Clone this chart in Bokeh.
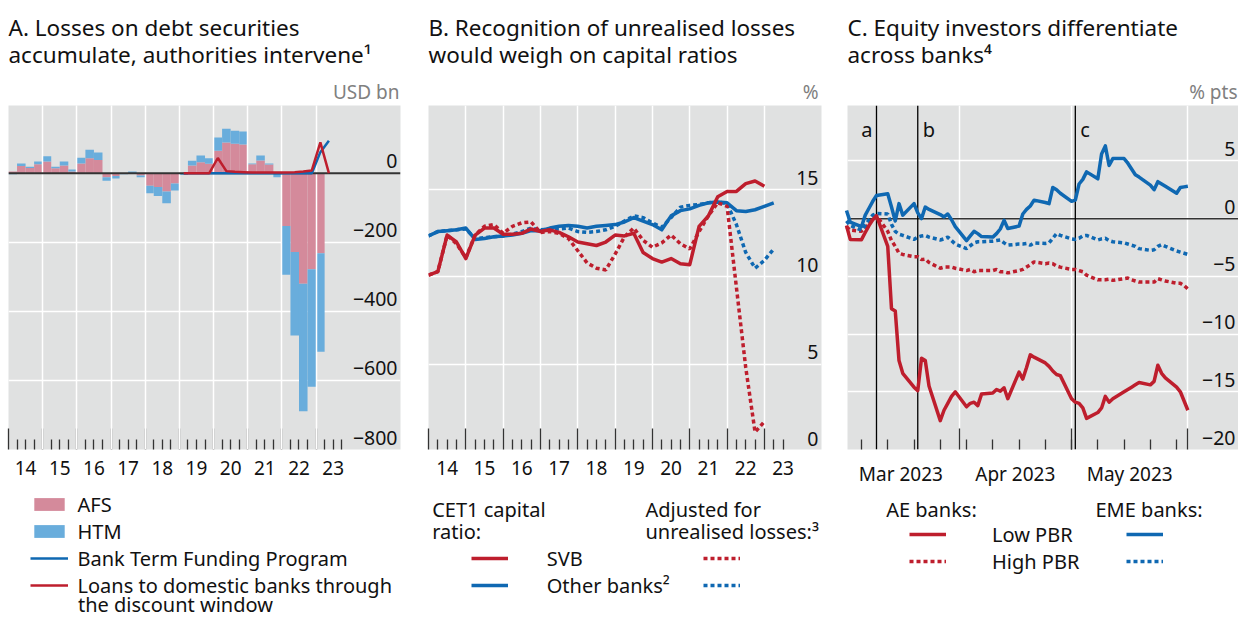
import numpy as np
import pandas as pd
from bokeh.plotting import figure
from bokeh.layouts import row, column
from bokeh.models import (ColumnDataSource, FixedTicker, LinearAxis, Span, Label, LabelSet,
                          Legend, LegendItem, Range1d, Title)
from bokeh.embed import file_html
from bokeh.resources import INLINE
from bokeh.core.properties import value

FONT = "Noto Sans"
BG = "#E0E1E1"
RED = "#BE1E2D"
BLUE = "#0F68B2"
PINK = "#D48A9B"
LBLUE = "#69ADDC"
DARK = "#333333"
GREY_TXT = "#808080"
TXT = "#111111"

# ---------------- Panel A data (USD bn, quarterly) ----------------
bar_quarters = [f"{y}Q{q}" for y in range(2014, 2024) for q in range(1, 5)][:37]
afs_losses = [5, 21, 15, 26, 34, 14, 22, 5, 28, 43, 38, -12, -8, 0, 0, -7,
              -36, -40, -53, -30, 0, 22, 32, 27, 65, 89, 85, 83, 26, 37, 25, -2,
              -153, -228, -320, -278, -232]
htm_losses = [-3, 7, 4, 8, 15, 5, 12, 6, 17, 25, 22, -10, -7, -3, 5, -5,
              -22, -26, -34, -20, -5, 14, 19, 16, 38, 40, 38, 38, 2, 14, 3, -10,
              -141, -242, -369, -340, -285]
line_quarters = ["2019Q1", "2019Q2", "2019Q3", "2019Q4", "2020Q1", "2020Q2", "2020Q3", "2020Q4",
                 "2021Q1", "2021Q2", "2021Q3", "2021Q4", "2022Q1", "2022Q2", "2022Q3", "2022Q4",
                 "2023Q1", "2023Q2"]
btfp = [0, 0, 0, 0, 0, 0, 0, 0, 0, 0, 0, 0, 0, 0, 0, 0, 61, 94]
discount_window = [0, 0, 0, 0, 44, 6, 4, 3, 2, 2, 2, 2, 2, 3, 5, 8, 89, 0]
a_yticks = [0, -200, -400, -600, -800]
a_ylabels = ["0", "\u2212200", "\u2212400", "\u2212600", "\u2212800"]

# ---------------- Panel B data (%, quarter ends) ----------------
b_quarters_svb = [f"{y}Q{q}" for y in range(2013, 2023) for q in range(1, 5)][3:]   # 2013Q4..2022Q4
b_quarters_other = b_quarters_svb + ["2023Q1"]
cet1_svb = [10.1, 10.3, 12.4, 12.0, 11.05, 12.4, 12.8, 12.8, 12.45, 12.45, 12.5, 12.75,
            12.6, 12.7, 12.55, 12.3, 12.0, 11.9, 11.8, 12.0, 12.4, 12.35, 12.5, 11.4,
            11.05, 10.85, 11.05, 10.75, 10.7, 12.9, 13.5, 14.6, 14.9, 14.9, 15.35, 15.5, 15.2]
adj_svb = [10.1, 10.3, 12.4, 11.9, 11.1, 12.4, 12.9, 13.0, 12.5, 12.9, 13.1, 13.15,
           12.55, 12.6, 12.5, 12.2, 11.5, 10.8, 10.5, 10.4, 11.3, 12.3, 12.8, 12.1,
           11.7, 11.95, 12.4, 11.9, 11.6, 12.6, 13.5, 14.25, 14.05, 9.4, 4.8, 1.1, 1.7]
cet1_other = [12.35, 12.6, 12.65, 12.7, 12.8, 12.15, 12.2, 12.3, 12.35, 12.4, 12.5, 12.65,
              12.65, 12.8, 12.9, 12.95, 12.9, 12.8, 12.9, 12.95, 13.0, 13.15, 13.4, 13.2,
              13.0, 12.7, 13.5, 13.8, 13.9, 14.1, 14.25, 14.3, 14.25, 13.8, 13.75, 13.85,
              14.05, 14.25]
adj_other = [12.35, 12.6, 12.65, 12.7, 12.75, 12.2, 12.25, 12.3, 12.35, 12.45, 12.6, 12.8,
             12.7, 12.75, 12.75, 12.8, 12.6, 12.55, 12.6, 12.7, 12.9, 13.2, 13.5, 13.4,
             13.1, 12.85, 13.4, 14.0, 14.1, 14.15, 14.25, 14.3, 14.2, 13.0, 11.4, 10.5,
             10.95, 11.6]
b_yticks = [0, 5, 10, 15]
b_ylabels = ["0", "5", "10", "15"]

# ---------------- Panel C data (% pts, daily) ----------------
c_dates = pd.bdate_range("2023-03-02", "2023-06-01")
ae_low = [-0.6, -1.8, -1.82, -1.2, -0.6, -0.1, 0.25, -2.4, -7.8, -8.0, -12.3, -13.4,
          -14.6, -14.9, -12.1, -12.3, -14.5, -17.5, -16.6, -16.0, -15.4, -15.0,
          -16.3, -16.0, -15.9, -16.2, -15.2, -15.1, -14.8, -14.95, -14.65, -15.6,
          -13.3, -13.9, -12.9, -11.8, -12.0, -12.5, -12.8, -13.2, -13.5, -13.6,
          -15.6, -15.9, -16.0, -16.4, -17.3, -16.8, -16.4, -15.4, -15.9, -15.6,
          -15.0, -14.8, -14.6, -14.4, -14.2, -14.4, -14.1, -12.7, -13.4, -13.8,
          -14.6, -15.0, -15.8, -16.6]
ae_high = [-0.7, -1.0, -1.1, -0.8, -0.4, 0.0, 0.25, -1.1, -1.9, -2.4, -3.0, -3.1,
           -3.3, -3.3, -3.55, -3.5, -3.8, -4.3, -4.2, -4.2, -4.2, -4.3,
           -4.5, -4.4, -4.6, -4.5, -4.5, -4.5, -4.4, -4.6, -4.6, -4.7,
           -4.5, -4.4, -4.2, -4.0, -3.75, -3.9, -3.85, -3.9, -4.1, -4.2,
           -4.4, -4.4, -4.5, -4.6, -4.9, -5.3, -5.3, -5.3, -5.25, -5.35,
           -5.2, -5.15, -5.3, -5.4, -5.5, -5.5, -5.5, -5.2, -5.3, -5.4,
           -5.6, -5.6, -5.8, -6.1]
eme_low = [0.7, -0.3, -0.7, 0.3, 0.9, 1.5, 2.0, 2.15, 1.0, -0.2, 1.3, 0.3,
           1.3, 0.5, 0.0, 1.0, 0.8, 0.35, 0.15, 0.4, -0.1, -0.7,
           -1.9, -1.5, -1.1, -1.3, -1.55, -1.6, -1.3, -0.9, -0.15, -0.85,
           -0.65, 0.4, 0.8, 1.1, 1.6, 1.4, 1.3, 2.7, 2.5, 2.2,
           1.5, 1.6, 3.0, 3.4, 4.05, 3.45, 5.6, 6.3, 4.6, 5.2,
           5.2, 4.8, 4.3, 3.8, 3.6, 2.9, 2.5, 3.2, 3.0, 2.8,
           2.2, 2.7, 2.75, 2.8]
eme_high = [-0.2, -0.6, -1.0, -0.6, -0.1, 0.3, 0.45, 0.4, -0.5, -1.1, -1.35, -1.45,
            -1.8, -1.6, -1.5, -1.45, -1.6, -1.85, -1.75, -1.6, -1.9, -2.2,
            -2.6, -2.35, -2.1, -2.0, -2.0, -1.95, -1.9, -1.85, -2.1, -2.3,
            -2.2, -2.2, -2.15, -2.3, -2.1, -2.15, -2.1, -1.7, -1.3, -1.45,
            -1.75, -1.8, -1.7, -1.5, -1.45, -1.85, -1.75, -1.7, -1.9, -2.0,
            -2.1, -2.2, -2.3, -2.4, -2.6, -2.75, -2.7, -2.4, -2.25, -2.4,
            -2.8, -2.9, -3.0, -3.1]
event_dates = ["2023-03-10", "2023-03-21", "2023-05-02"]
event_labels = ["a", "b", "c"]
c_yticks = [5, 0, -5, -10, -15, -20]
c_ylabels = ["5", "0", "\u22125", "\u221210", "\u221215", "\u221220"]

# ---------------- helpers ----------------
def qcenter(qs):
    return [int(q[:4]) + (int(q[5]) - 0.5) / 4 for q in qs]

def qend(qs):
    return [int(q[:4]) + int(q[5]) / 4 for q in qs]

def ms(d):
    return int(pd.Timestamp(d).value // 10**6)

FRAME_TOP = 105
FRAME_H = 344
H1 = 490          # chart figure height
H2 = 127          # legend figure height (page bottom = 617)
LFIX = 8          # Label baseline correction (px)
NAN = np.array([np.nan])

def make_fig(width, xr, yr, left, right, title, unit, unit_off, x_type="linear"):
    p = figure(width=width, height=H1, x_range=xr, y_range=yr, x_axis_type=x_type,
               output_backend="svg", toolbar_location=None, title_location=None,
               x_axis_location="below", y_axis_location=None,
               min_border_left=left, min_border_right=right,
               min_border_top=FRAME_TOP, min_border_bottom=H1 - FRAME_TOP - FRAME_H,
               background_fill_color=BG, border_fill_color="white", outline_line_color=None)
    p.add_layout(Title(text=unit, align="right", offset=unit_off, standoff=1,
                       text_font=FONT, text_font_size="19px", text_font_style="normal",
                       text_color=GREY_TXT), "above")
    p.add_layout(Title(text=title, align="left", offset=0, standoff=13,
                       text_font=FONT, text_font_size="22.5px", text_font_style="normal",
                       text_color=TXT, text_line_height=0.87), "above")
    return p

def make_legend_fig(width):
    q = figure(width=width, height=H2, x_range=Range1d(0, width), y_range=Range1d(0, H2),
               output_backend="svg", toolbar_location=None, title_location=None,
               x_axis_location=None, y_axis_location=None,
               min_border_left=0, min_border_right=0, min_border_top=0, min_border_bottom=0,
               background_fill_color="white", border_fill_color="white", outline_line_color=None)
    q.xgrid.visible = False
    q.ygrid.visible = False
    return q

def style_axes(p, major, minor, mids, labels, grid_x, grid_y, yticks, ylabels, x_end):
    ax = p.xaxis[0]
    ax.ticker = FixedTicker(ticks=major, minor_ticks=minor)
    ax.major_tick_in = 21
    ax.major_tick_out = 0
    ax.minor_tick_in = 10
    ax.minor_tick_out = 0
    ax.major_tick_line_color = DARK
    ax.minor_tick_line_color = DARK
    ax.major_tick_line_width = 1.3
    ax.minor_tick_line_width = 1.3
    ax.axis_line_color = None
    ax.major_label_overrides = {t: "" for t in major}
    ax.major_label_text_font_size = "0px"
    ax.major_label_standoff = 0
    lab = LinearAxis(ticker=FixedTicker(ticks=mids, minor_ticks=[]),
                     major_label_overrides=dict(zip(mids, labels)),
                     major_tick_in=0, major_tick_out=0, minor_tick_in=0, minor_tick_out=0,
                     axis_line_color=None, major_label_text_font=FONT,
                     major_label_text_font_size="19px", major_label_text_color=TXT,
                     major_label_standoff=11)
    p.add_layout(lab, "below")
    p.xgrid.ticker = FixedTicker(ticks=grid_x, minor_ticks=[])
    p.xgrid.grid_line_color = "white"
    p.xgrid.grid_line_width = 1.5
    p.ygrid.ticker = FixedTicker(ticks=grid_y, minor_ticks=[])
    p.ygrid.grid_line_color = "white"
    p.ygrid.grid_line_width = 1.5
    src = ColumnDataSource(dict(x=[x_end] * len(yticks), y=yticks, text=ylabels))
    p.add_layout(LabelSet(x="x", y="y", text="text", source=src, text_align="right",
                          text_baseline="alphabetic", x_offset=-3, y_offset=5,
                          text_font=value(FONT), text_font_size="19.5px", text_color=TXT))

ROW = 27

def legend(items, x, top, gw, standoff):
    h = len(items) * ROW
    return Legend(items=items, location=(x, 617 - top - h), orientation="vertical",
                  glyph_width=gw, glyph_height=16, label_standoff=standoff, spacing=0,
                  padding=0, margin=0, border_line_color=None, background_fill_alpha=0,
                  label_text_font=FONT, label_text_font_size="20px", label_height=ROW,
                  label_text_color=TXT)

def text_label(q, x, baseline_y, txt):
    q.add_layout(Label(x=x, y=617 - baseline_y + LFIX, x_units="screen", y_units="screen",
                       text=txt, text_align="left", text_baseline="alphabetic", text_font=FONT,
                       text_font_size="20px", text_color=TXT))

# ================= Panel A =================
pA = make_fig(420, Range1d(2014, 2025.47), Range1d(-800, 196), 8, 20,
              "A. Losses on debt securities\naccumulate, authorities intervene\u00b9", "USD bn", 1)
afs_bottom = [0] * len(afs_losses)
htm_bottom = [a if a * h > 0 else 0 for a, h in zip(afs_losses, htm_losses)]
htm_top = [b + h for b, h in zip(htm_bottom, htm_losses)]
srcA = ColumnDataSource(dict(x=qcenter(bar_quarters), afs_top=afs_losses, afs_bot=afs_bottom,
                             htm_top=htm_top, htm_bot=htm_bottom))
pA.vbar(x="x", top="afs_top", bottom="afs_bot", width=0.25, source=srcA,
        fill_color=PINK, line_color=None)
pA.vbar(x="x", top="htm_top", bottom="htm_bot", width=0.25, source=srcA,
        fill_color=LBLUE, line_color=None)
pA.add_layout(Span(location=0, dimension="width", line_color=DARK, line_width=2))
srcAl = ColumnDataSource(dict(x=qcenter(line_quarters), btfp=btfp, dw=discount_window))
pA.line("x", "btfp", source=srcAl, line_color=BLUE, line_width=2.5, level="overlay")
pA.line("x", "dw", source=srcAl, line_color=RED, line_width=2.5, level="overlay")
years_a = list(range(2014, 2024))
style_axes(pA, years_a, [y + q / 4 for y in years_a for q in (1, 2, 3)],
           [y + 0.5 for y in years_a], [str(y)[2:] for y in years_a],
           list(range(2015, 2024)), [-200, -400, -600], a_yticks, a_ylabels, 2025.47)
pA.xgrid.level = "guide"

# legend figure A (frame aligned with chart frame: left edge at page x 8)
lA = make_legend_fig(420)
k_afs = lA.vbar(x=NAN, top=NAN, width=1, fill_color=PINK, line_color=None)
k_htm = lA.vbar(x=NAN, top=NAN, width=1, fill_color=LBLUE, line_color=None)
k_btfp = lA.line(x=NAN, y=NAN, line_color=BLUE, line_width=2.5)
k_dw = lA.line(x=NAN, y=NAN, line_color=RED, line_width=2.5)
lA.add_layout(legend([LegendItem(label=value("AFS"), renderers=[k_afs]),
                      LegendItem(label=value("HTM"), renderers=[k_htm]),
                      LegendItem(label=value("Bank Term Funding Program"), renderers=[k_btfp]),
                      LegendItem(label=value("Loans to domestic banks through"), renderers=[k_dw])],
                     21.5, 490.5, 38, 10))
text_label(lA, 69.5, 612, "the discount window")

# ================= Panel B =================
pB = make_fig(416, Range1d(2014, 2024.53), Range1d(0.1, 19.83), 8, 15,
              "B. Recognition of unrealised losses\nwould weigh on capital ratios", "%", 3)
srcBs = ColumnDataSource(dict(x=qend(b_quarters_svb), cet1=cet1_svb, adj=adj_svb))
srcBo = ColumnDataSource(dict(x=qend(b_quarters_other), cet1=cet1_other, adj=adj_other))
pB.line("x", "cet1", source=srcBo, line_color=BLUE, line_width=3.5, line_join="round")
pB.line("x", "adj", source=srcBo, line_color=BLUE, line_width=3.5, line_dash="4 3")
pB.line("x", "cet1", source=srcBs, line_color=RED, line_width=3.5, line_join="round")
pB.line("x", "adj", source=srcBs, line_color=RED, line_width=3.5, line_dash="4 3")
years_b = list(range(2014, 2024))
style_axes(pB, years_b, [y + q / 4 for y in years_b for q in (1, 2, 3)][:-1],
           [y + 0.5 for y in years_b], [str(y)[2:] for y in years_b],
           list(range(2015, 2024)), [5, 10, 15], b_yticks, b_ylabels, 2024.53)

# legend figure B (frame left edge at page x 428)
lB = make_legend_fig(416)
k_ss = lB.line(x=NAN, y=NAN, line_color=RED, line_width=3.5)
k_sd = lB.line(x=NAN, y=NAN, line_color=RED, line_width=3.5, line_dash="4 3")
k_os = lB.line(x=NAN, y=NAN, line_color=BLUE, line_width=3.5)
k_od = lB.line(x=NAN, y=NAN, line_color=BLUE, line_width=3.5, line_dash="4 3")
text_label(lB, 3.7, 516.7, "CET1 capital")
text_label(lB, 3.7, 539.3, "ratio:")
text_label(lB, 217, 516.7, "Adjusted for")
text_label(lB, 217, 539.3, "unrealised losses:\u00b3")
lB.add_layout(legend([LegendItem(label=value("SVB"), renderers=[k_ss]),
                      LegendItem(label=value("Other banks\u00b2"), renderers=[k_os])],
                     42.7, 544.8, 37, 39))
lB.add_layout(legend([LegendItem(label=value(" "), renderers=[k_sd]),
                      LegendItem(label=value(" "), renderers=[k_od])],
                     275.3, 544.8, 37, 5))

# ================= Panel C =================
c_start = pd.Timestamp("2023-03-02 06:30")
c_end = pd.Timestamp("2023-06-14 12:00")
pC = make_fig(402, Range1d(c_start, c_end), Range1d(-20, 9.8), 11, 0,
              "C. Equity investors differentiate\nacross banks\u2074", "% pts", 1, x_type="datetime")
srcC = ColumnDataSource(dict(x=c_dates, ae_low=ae_low, ae_high=ae_high,
                             eme_low=eme_low, eme_high=eme_high))
pC.add_layout(Span(location=0, dimension="width", line_color=DARK, line_width=1.5))
for d, t in zip(event_dates, event_labels):
    pC.add_layout(Span(location=ms(d), dimension="height", line_color="black", line_width=1.3))
    left_side = t == "a"
    pC.add_layout(Label(x=ms(d), y=9.8, text=t, text_align="right" if left_side else "left",
                        text_baseline="alphabetic", x_offset=-4 if left_side else 5,
                        y_offset=-32 + LFIX, text_font=FONT, text_font_size="20px",
                        text_color=TXT))
pC.line("x", "ae_high", source=srcC, line_color=RED, line_width=3.5, line_dash="4 3", level="overlay")
pC.line("x", "eme_high", source=srcC, line_color=BLUE, line_width=3.5, line_dash="4 3", level="overlay")
pC.line("x", "ae_low", source=srcC, line_color=RED, line_width=3.5, line_join="round", level="overlay")
pC.line("x", "eme_low", source=srcC, line_color=BLUE, line_width=3.5, line_join="round", level="overlay")
month_starts = ["2023-04-01", "2023-05-01", "2023-06-01"]
mondays = pd.date_range("2023-03-06", "2023-05-29", freq="7D")
month_mids = ["2023-03-16 12:00", "2023-04-16 00:00", "2023-05-16 12:00"]
month_names = ["Mar 2023", "Apr 2023", "May 2023"]
style_axes(pC, [ms(d) for d in month_starts], [ms(d) for d in mondays],
           [ms(d) for d in month_mids], month_names,
           [ms(d) for d in month_starts], [5, 0, -5, -10, -15], c_yticks, c_ylabels, ms(c_end))

# legend figure C (frame left edge at page x 847)
lC = make_legend_fig(402)
k_ael = lC.line(x=NAN, y=NAN, line_color=RED, line_width=3.5)
k_aeh = lC.line(x=NAN, y=NAN, line_color=RED, line_width=3.5, line_dash="4 3")
k_eml = lC.line(x=NAN, y=NAN, line_color=BLUE, line_width=3.5)
k_emh = lC.line(x=NAN, y=NAN, line_color=BLUE, line_width=3.5, line_dash="4 3")
text_label(lC, 38.7, 516.7, "AE banks:")
text_label(lC, 248, 516.7, "EME banks:")
lC.add_layout(legend([LegendItem(label=value("Low PBR"), renderers=[k_ael]),
                      LegendItem(label=value("High PBR"), renderers=[k_aeh])],
                     62, 520.5, 37, 46))
lC.add_layout(legend([LegendItem(label=value(" "), renderers=[k_eml]),
                      LegendItem(label=value(" "), renderers=[k_emh])],
                     278.7, 520.5, 37, 5))

layout = row(column(pA, lA), column(pB, lB), column(pC, lC))
open("out.html", "w").write(file_html(layout, INLINE))
